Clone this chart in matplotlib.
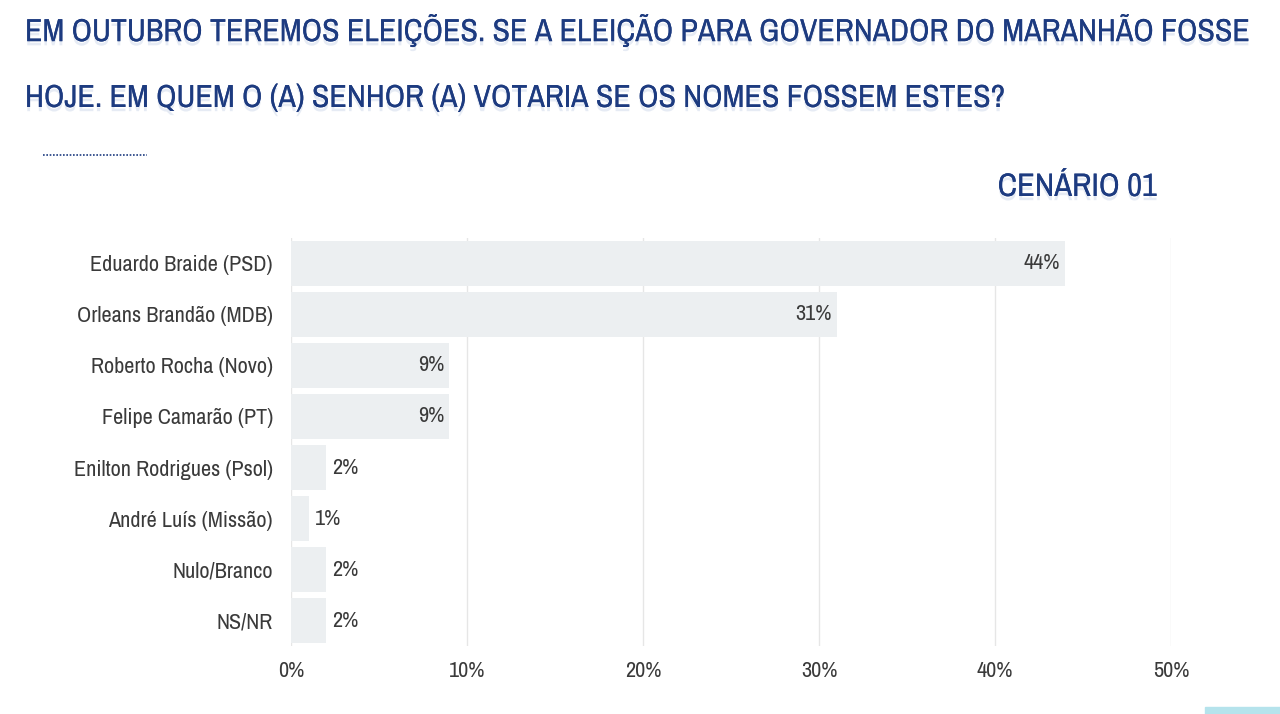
import matplotlib
matplotlib.use("Agg")
import matplotlib.pyplot as plt
import matplotlib.patheffects as pe
from matplotlib import font_manager
from matplotlib.patches import Rectangle

# Data
candidates = [
    "Eduardo Braide (PSD)",
    "Orleans Brandão (MDB)",
    "Roberto Rocha (Novo)",
    "Felipe Camarão (PT)",
    "Enilton Rodrigues (Psol)",
    "André Luís (Missão)",
    "Nulo/Branco",
    "NS/NR",
]
votes = [44, 31, 9, 9, 2, 1, 2, 2]
xticks = [0, 10, 20, 30, 40, 50]

title_lines = [
    "EM OUTUBRO TEREMOS ELEIÇÕES. SE A ELEIÇÃO PARA GOVERNADOR DO MARANHÃO FOSSE",
    "HOJE. EM QUEM O (A) SENHOR (A) VOTARIA SE OS NOMES FOSSEM ESTES?",
]
scenario = "CENÁRIO 01"

# pick a narrow font if one happens to be installed
narrow = sorted({f.name for f in font_manager.fontManager.ttflist
                 if "Narrow" in f.name or "Condensed" in f.name})
FONT = narrow[:1] + ["Roboto", "DejaVu Sans"]
NAVY = "#1d3b80"
BAR = "#eceff1"
TXT = "#3a3a3a"

plt.rcParams["font.family"] = FONT
plt.rcParams["font.weight"] = "light"

fig = plt.figure(figsize=(12.8, 7.14), dpi=100)
ax = fig.add_axes([0.2273, 0.0952, 0.6875, 0.5715])

ypos = list(range(len(candidates)))
ax.barh(ypos, votes, height=0.88, color=BAR, edgecolor="none", zorder=2)

for y, v in zip(ypos, votes):
    label = f"{v}%"
    if v >= 5:
        ax.text(v - 0.3, y, label, ha="right", va="center", fontsize=16, color=TXT, zorder=3)
    else:
        ax.text(v + 0.35, y, label, ha="left", va="center", fontsize=16, color=TXT, zorder=3)

ax.set_xlim(0, 50)
ax.set_ylim(len(candidates) - 0.5, -0.5)
ax.set_yticks(ypos)
ax.set_yticklabels(candidates, fontsize=16, color=TXT)
ax.set_xticks(xticks)
ax.set_xticklabels([f"{t}%" for t in xticks], fontsize=16, color=TXT)
ax.tick_params(axis="both", length=0)
ax.tick_params(axis="y", pad=13)
ax.tick_params(axis="x", pad=11)
ax.grid(axis="x", color="#e6e6e6", linewidth=1, zorder=0)
for s in ax.spines.values():
    s.set_visible(False)

shadow = [pe.withSimplePatchShadow(offset=(0, -3), shadow_rgbFace="#9fb3d6", alpha=0.25), pe.Normal()]
titles = []
for line, ypix in zip(title_lines, [30, 98]):
    t = fig.text(25 / 1280, 1 - ypix / 714, line, fontsize=30, color=NAVY, ha="left",
                 va="center", path_effects=shadow)
    titles.append(t)

# shrink the title so the first line spans the same width as in the reference
renderer = fig.canvas.get_renderer()
w = titles[0].get_window_extent(renderer).width
size = min(40, 30 * 1223 / w)
for t in titles:
    t.set_fontsize(size)

fig.text(1157 / 1280, 1 - 187 / 714, scenario, fontsize=23.5, color=NAVY, ha="right", va="center",
         path_effects=shadow)

fig.add_artist(plt.Line2D([43 / 1280, 147 / 1280], [1 - 155 / 714] * 2, color=NAVY,
                          linestyle=(0, (1, 1)), linewidth=1.2, transform=fig.transFigure))
fig.add_artist(Rectangle((1205 / 1280, 0), 75 / 1280, 7 / 714, color="#b5e3ec",
                         transform=fig.transFigure))

fig.savefig("out.png", dpi=100)
